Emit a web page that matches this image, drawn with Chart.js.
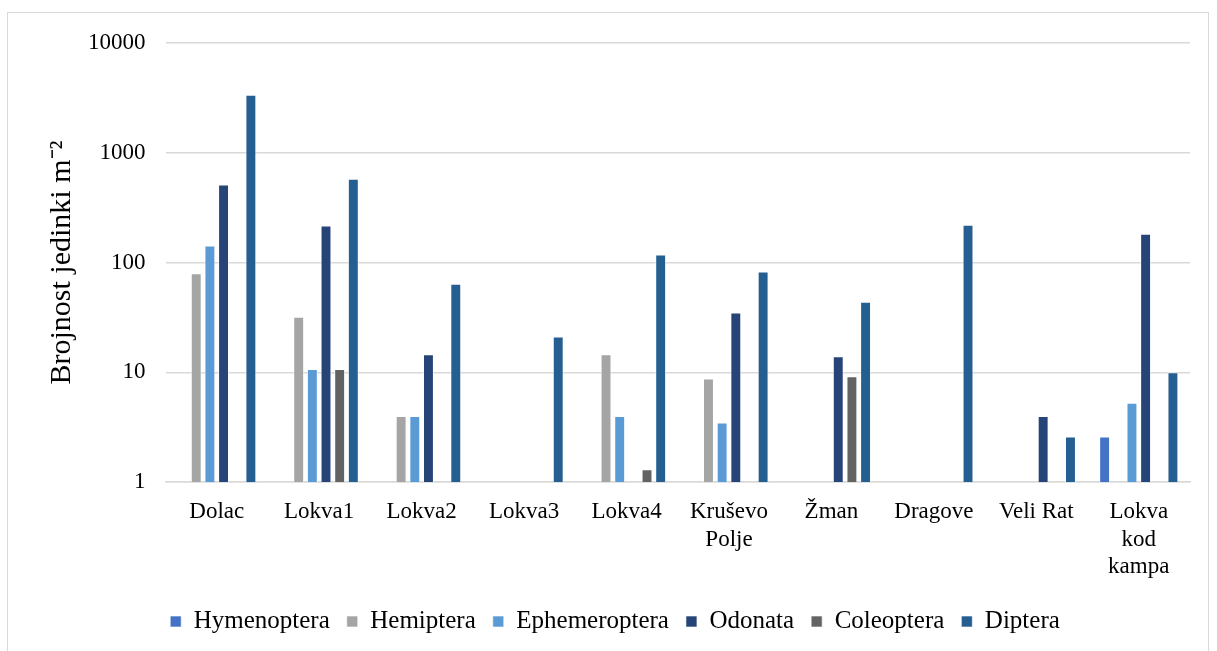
<!DOCTYPE html>
<html>
<head>
<meta charset="utf-8">
<script src="https://cdn.jsdelivr.net/npm/chart.js@4.4.1/dist/chart.umd.min.js"></script>
<style>
    html, body { margin: 0; padding: 0; background: #fff; }
    #frame {
        position: absolute;
        left: 7px; top: 12px;
        width: 1202px; height: 660px;
        border: 1px solid #d9d9d9;
        box-sizing: border-box;
    }
    #wrap { position: absolute; left: 0; top: -4px; width: 1200px; height: 644px; }
</style>
</head>
<body>
<div id="frame"><div id="wrap"><canvas id="abundanceChart"></canvas></div></div>
<script>
// Sites (x categories)
const sites = ['Dolac', 'Lokva1', 'Lokva2', 'Lokva3', 'Lokva4', ['Kruševo', 'Polje'], 'Žman', 'Dragove', 'Veli Rat', ['Lokva', 'kod', 'kampa']];

// Abundance per m2 for each order (null = not found)
const hymenoptera   = [null, null, null, null, null, null, null, null, null, 2.6];
const hemiptera     = [80, 32, 4, null, 14.6, 8.8, null, null, null, null];
const ephemeroptera = [143, 10.7, 4, null, 4, 3.5, null, null, null, 5.3];
const odonata       = [512, 217, 14.6, null, null, 35, 14, null, 4, 183];
const coleoptera    = [null, 10.7, null, null, 1.31, null, 9.2, null, null, null];
const diptera       = [3365, 580, 64, 21.2, 118, 83, 44, 221, 2.6, 10];

const yTicks = [1, 10, 100, 1000, 10000];

const serif = "'Liberation Serif', 'Times New Roman', serif";

function series(label, data, color) {
    return {
        label: label,
        data: data,
        backgroundColor: color,
        borderColor: 'rgba(255,255,255,0.6)',
        borderWidth: 1,
        categoryPercentage: 0.8,
        barPercentage: 0.8
    };
}

const ctx = document.getElementById('abundanceChart');

new Chart(ctx, {
    type: 'bar',
    data: {
        labels: sites,
        datasets: [
            series('Hymenoptera', hymenoptera, '#4472C4'),
            series('Hemiptera', hemiptera, '#A5A5A5'),
            series('Ephemeroptera', ephemeroptera, '#5B9BD5'),
            series('Odonata', odonata, '#264478'),
            series('Coleoptera', coleoptera, '#636363'),
            series('Diptera', diptera, '#255E91')
        ]
    },
    options: {
        responsive: true,
        maintainAspectRatio: false,
        animation: false,
        layout: { padding: { left: 32, right: 18, top: 8, bottom: 9 } },
        plugins: {
            legend: {
                position: 'bottom',
                labels: {
                    boxWidth: 11,
                    boxHeight: 11,
                    padding: 17,
                    color: '#000',
                    font: { family: serif, size: 25 }
                }
            },
            tooltip: { enabled: false }
        },
        scales: {
            x: {
                grid: { display: false },
                border: { display: true, color: '#d9d9d9', width: 1.5 },
                afterFit: function (axis) { axis.height += 3; },
                ticks: {
                    color: '#000',
                    maxRotation: 0,
                    autoSkip: false,
                    padding: 8,
                    font: { family: serif, size: 23, lineHeight: 1.2 }
                }
            },
            y: {
                type: 'logarithmic',
                min: 1,
                max: 10000,
                afterBuildTicks: function (axis) {
                    axis.ticks = yTicks.map(v => ({ value: v }));
                },
                afterFit: function (axis) { axis.width -= 16; },
                grid: { color: '#d9d9d9', lineWidth: 1.5, drawTicks: false },
                border: { display: false },
                ticks: {
                    color: '#000',
                    padding: 20,
                    font: { family: serif, size: 23 },
                    callback: v => String(v)
                },
                title: {
                    display: true,
                    text: 'Brojnost jedinki m⁻²',
                    color: '#000',
                    padding: { top: 4, bottom: 4 },
                    font: { family: serif, size: 30 }
                }
            }
        }
    }
});
</script>
</body>
</html>
